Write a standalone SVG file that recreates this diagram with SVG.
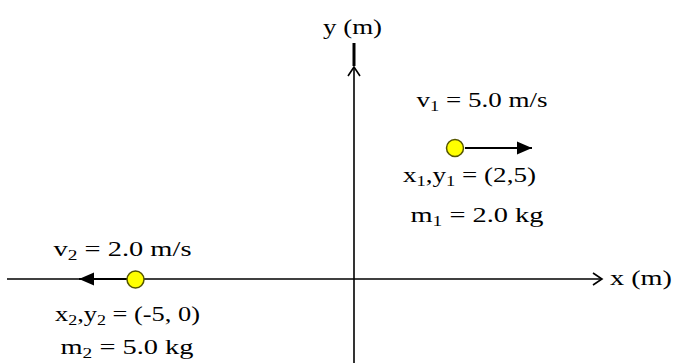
<svg xmlns="http://www.w3.org/2000/svg" width="674" height="363" viewBox="0 0 674 363">
<style>
text{font-family:"Liberation Serif","Times New Roman",serif;font-size:22px;fill:#000}
.sub{font-size:15px}
.ax{stroke:#000;stroke-width:1.6;fill:none}
.vel{stroke:#000;stroke-width:2;fill:none}
.ball{fill:#ffff00;stroke:#555500;stroke-width:1.5}
</style>
<defs>
<marker id="open" markerWidth="12" markerHeight="14" refX="10" refY="7" orient="auto" markerUnits="userSpaceOnUse"><path d="M1,1 L10,7 L1,13" fill="none" stroke="#000" stroke-width="1.6"/></marker>
<marker id="fill" markerWidth="16" markerHeight="14" refX="15" refY="7" orient="auto" markerUnits="userSpaceOnUse"><path d="M0,0.5 L15,7 L0,13.5 Z" fill="#000"/></marker>
</defs>
<g id="connectors">
<line class="ax" x1="7" y1="279" x2="602" y2="279" marker-end="url(#open)"/>
<line class="ax" x1="354" y1="363" x2="354" y2="67" marker-end="url(#open)"/>
<line x1="354" y1="43" x2="354" y2="66" stroke="#000" stroke-width="3"/>
<line class="vel" x1="465" y1="148" x2="532" y2="148" marker-end="url(#fill)"/>
<line class="vel" x1="127" y1="279" x2="79" y2="279" marker-end="url(#fill)"/>
</g>
<g id="yaxis-label"><text x="323" y="34" textLength="59" lengthAdjust="spacingAndGlyphs">y (m)</text></g>
<g id="xaxis-label"><text x="610" y="285" textLength="62" lengthAdjust="spacingAndGlyphs">x (m)</text></g>
<g id="mass1">
<circle class="ball" cx="455" cy="148" r="8.5"/>
<text x="416.5" y="107" textLength="131" lengthAdjust="spacingAndGlyphs">v<tspan class="sub" dy="4">1</tspan><tspan dy="-4"> = 5.0 m/s</tspan></text>
<text x="403" y="182" textLength="133" lengthAdjust="spacingAndGlyphs">x<tspan class="sub" dy="4">1</tspan><tspan dy="-4">,y</tspan><tspan class="sub" dy="4">1</tspan><tspan dy="-4"> = (2,5)</tspan></text>
<text x="410.5" y="222" textLength="133" lengthAdjust="spacingAndGlyphs">m<tspan class="sub" dy="4">1</tspan><tspan dy="-4"> = 2.0 kg</tspan></text>
</g>
<g id="mass2">
<circle class="ball" cx="135.5" cy="279.5" r="8.5"/>
<text x="53.5" y="256" textLength="138" lengthAdjust="spacingAndGlyphs">v<tspan class="sub" dy="4">2</tspan><tspan dy="-4"> = 2.0 m/s</tspan></text>
<text x="55" y="321" textLength="145" lengthAdjust="spacingAndGlyphs">x<tspan class="sub" dy="4">2</tspan><tspan dy="-4">,y</tspan><tspan class="sub" dy="4">2</tspan><tspan dy="-4"> = (-5, 0)</tspan></text>
<text x="60.5" y="354" textLength="133" lengthAdjust="spacingAndGlyphs">m<tspan class="sub" dy="4">2</tspan><tspan dy="-4"> = 5.0 kg</tspan></text>
</g>
</svg>
